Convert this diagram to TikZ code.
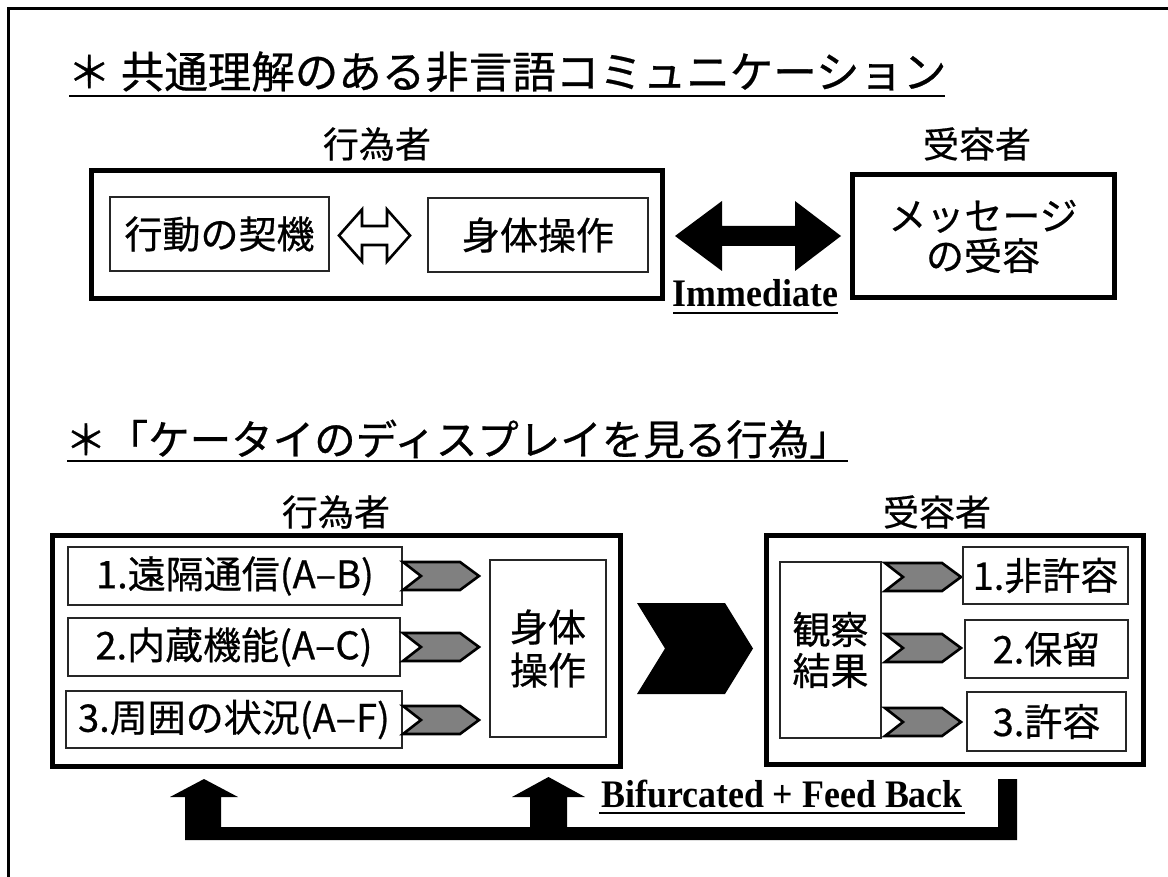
\documentclass[tikz,border=0pt]{standalone}
\usepackage{fontspec}
\setmainfont{Liberation Serif}
\newfontfamily\jp[FakeBold=0.6]{Noto Sans CJK JP}
\begin{document}
\begin{tikzpicture}[x=1pt,y=-1pt,
  outerbox/.style={draw=black,line width=5pt,inner sep=0pt},
  innerbox/.style={draw=black!85,line width=1.8pt,inner sep=0pt,font=\jp\fontsize{38}{42}\selectfont,align=center},
  jtitle/.style={font=\jp\fontsize{43.5}{46}\selectfont,inner sep=0pt},
  jlabel/.style={font=\jp\fontsize{36}{40}\selectfont,inner sep=0pt},
  entext/.style={font=\bfseries\fontsize{39}{42}\selectfont,inner sep=0pt,xscale=0.92},
  chev/.style={fill=black!50,draw=black,line width=2.6pt,line join=miter},
  uline/.style={line width=2.6pt}]
\useasboundingbox (0,0) rectangle (1168,877);
\fill[white] (0,0) rectangle (1168,877);
% frame
\draw[line width=3pt] (8,877) -- (8,8.5) -- (1168,8.5);

% ===== top section =====
\node[jtitle,anchor=base] (t1) at (507,88) {＊ 共通理解のある非言語コミュニケーション};
\draw[uline] (69,96) -- (945,96);

\node[jlabel] (actA) at (377,144) {行為者};
\node[jlabel] (recB) at (977,144) {受容者};

\node[outerbox,minimum width=571pt,minimum height=128pt] (A) at (376.5,235) {};
\node[innerbox,minimum width=219pt,minimum height=74pt] (kk) at (219.5,234) {行動の契機};
\node[innerbox,minimum width=220pt,minimum height=74pt] (ss) at (538,235) {身体操作};
\node[outerbox,minimum width=262pt,minimum height=123pt,font=\jp\fontsize{38}{40}\selectfont,align=center] (B) at (983,236.5) {メッセージ\\の受容};

% hollow double arrow
\draw[line width=2.6pt,line join=miter,fill=white]
  (339,235.5) -- (362,209.5) -- (362,226) -- (387,226) -- (387,209.5) -- (410,235.5)
  -- (387,261.5) -- (387,245) -- (362,245) -- (362,261.5) -- cycle;
% black double arrow
\fill (675,236) -- (722,201) -- (722,226) -- (795,226) -- (795,201) -- (841,236)
  -- (795,271) -- (795,246) -- (722,246) -- (722,271) -- cycle;
\node[entext,anchor=base] (imm) at (755.5,307) {Immediate};
\draw[uline] (673,313) -- (838,313);

% ===== bottom section =====
\node[jtitle,font=\jp\fontsize{41.5}{46}\selectfont,anchor=base] (t2) at (458,455) {＊「ケータイのディスプレイを見る行為」};
\draw[uline] (67,461) -- (848,461);

\node[jlabel] (actC) at (336,512) {行為者};
\node[jlabel] (recD) at (937,512) {受容者};

\node[outerbox,minimum width=568pt,minimum height=231pt] (C) at (336,650.5) {};
\node[innerbox,minimum width=334pt,minimum height=58pt] (b1) at (235,576) {1.遠隔通信(A–B)};
\node[innerbox,minimum width=332pt,minimum height=58pt] (b2) at (234,647) {2.内蔵機能(A–C)};
\node[innerbox,minimum width=336pt,minimum height=57pt] (b3) at (234,719.5) {3.周囲の状況(A–F)};
\node[innerbox,minimum width=116pt,minimum height=177pt,font=\jp\fontsize{38}{43}\selectfont] (body) at (548,648.5) {身体\\操作};

\newcommand\mychev[2]{\draw[chev] ({#1},{#2-14}) -- ({#1+57},{#2-14}) -- ({#1+76},{#2}) -- ({#1+57},{#2+14}) -- ({#1},{#2+14}) -- ({#1+18},{#2}) -- cycle;}
\mychev{403}{576}
\mychev{403}{647}
\mychev{403}{720}

% big chevron
\fill (637,603) -- (725,603) -- (753,648.5) -- (725,694) -- (637,694) -- (665,648.5) -- cycle;

\node[outerbox,minimum width=377pt,minimum height=229pt] (D) at (954.5,649.5) {};
\node[innerbox,minimum width=101pt,minimum height=176pt,font=\jp\fontsize{38}{41}\selectfont] (obs) at (830.5,650) {観察\\結果};
\mychev{885}{577}
\mychev{885}{648}
\mychev{885}{722}
\node[innerbox,minimum width=165pt,minimum height=57pt] (r1) at (1045.5,575.5) {1.非許容};
\node[innerbox,minimum width=163pt,minimum height=58pt] (r2) at (1046.5,649) {2.保留};
\node[innerbox,minimum width=159pt,minimum height=59pt] (r3) at (1046.5,721.5) {3.許容};

% feedback arrows
\fill (185,840) -- (185,797) -- (170,797) -- (204,779) -- (238,797) -- (221,797) -- (221,827)
  -- (530,827) -- (530,797) -- (512,797) -- (548.5,777) -- (585,797) -- (567,797) -- (567,827)
  -- (998,827) -- (998,779) -- (1017,779) -- (1017,840) -- cycle;
\node[entext,anchor=base] (fb) at (782,807) {Bifurcated + Feed Back};
\draw[uline] (599,813) -- (965,813);
\end{tikzpicture}
\end{document}
